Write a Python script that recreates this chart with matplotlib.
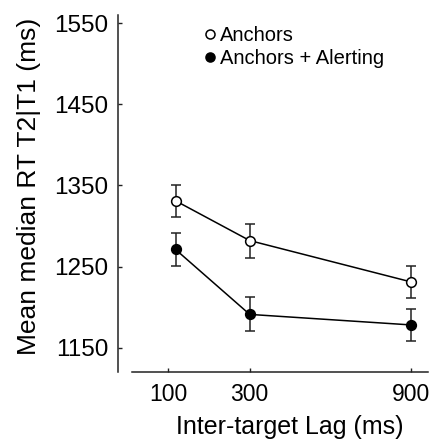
import numpy as np
import matplotlib
matplotlib.use("Agg")
import matplotlib.pyplot as plt
from matplotlib.lines import Line2D

plt.rcParams['font.family'] = ['Liberation Sans', 'DejaVu Sans']

# lags (first point sits a little right of the 100 tick)
lags = [115, 300, 900]
tick_lags = [100, 300, 900]

anchors = [1331, 1282, 1231]
anchors_err = [20, 21, 20]
alerting = [1271, 1191, 1178]
alerting_err = [20, 21, 20]

yticks = [1150, 1250, 1350, 1450, 1550]

p = 0.62
fig = plt.figure(figsize=(4.32, 4.44), dpi=100)
ax = fig.add_axes([131.7 / 432, 1 - 372 / 444, (428 - 131.7) / 432, (372 - 15) / 444])
ax.set_xscale('function', functions=(lambda x: np.power(np.clip(x, 1e-9, None), p),
                                      lambda x: np.power(np.clip(x, 1e-9, None), 1 / p)))

ax.errorbar(lags, anchors, yerr=anchors_err, color='black', ecolor='#222222', lw=1.1,
            elinewidth=1.1, capsize=3.6, capthick=1.1, marker='o', ms=7,
            mfc='white', mec='black', mew=1.1, zorder=3)
ax.errorbar(lags, alerting, yerr=alerting_err, color='black', ecolor='#222222', lw=1.1,
            elinewidth=1.1, capsize=3.6, capthick=1.1, marker='o', ms=7,
            mfc='black', mec='black', mew=1.1, zorder=3)

ax.set_xlim(40, 976)
ax.set_ylim(1120, 1560)
ax.set_xticks(tick_lags)
ax.set_xticklabels([str(t) for t in tick_lags])
ax.set_yticks(yticks)
ax.minorticks_off()

for s in ['top', 'right']:
    ax.spines[s].set_visible(False)
ax.spines['left'].set_position(('outward', 9.6))
ax.spines['left'].set_bounds(1120, 1560)
for s in ['left', 'bottom']:
    ax.spines[s].set_linewidth(1.1)
    ax.spines[s].set_color('#222222')

ax.tick_params(axis='both', direction='in', length=3, width=1, color='#222222')
ax.tick_params(axis='y', pad=7, labelsize=17.5)
ax.tick_params(axis='x', pad=8, labelsize=16.5)

ax.set_ylabel('Mean median RT T2|T1 (ms)', fontsize=19)
ax.set_xlabel('Inter-target Lag (ms)', fontsize=18)
ax.yaxis.set_label_coords(-0.305, 0.521)
ax.xaxis.set_label_coords(0.534, -0.120)

handles = [Line2D([], [], ls='none', marker='o', ms=6.5, mfc='white', mec='black', mew=1.1),
           Line2D([], [], ls='none', marker='o', ms=6.5, mfc='black', mec='black', mew=1.1)]
fig.legend(handles, ['Anchors', 'Anchors + Alerting'], loc='upper left',
           bbox_to_anchor=(204 / 432, 1 - 26 / 444), frameon=False, fontsize=14.5,
           handlelength=0.6, handletextpad=0.2, borderpad=0, borderaxespad=0,
           labelspacing=0.2)

fig.savefig('out.png', dpi=100)
